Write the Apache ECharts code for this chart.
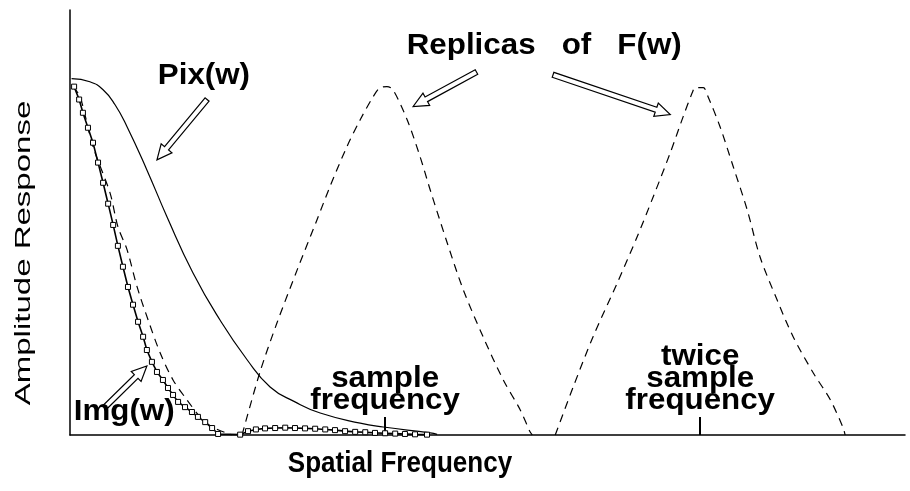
<!DOCTYPE html>
<html>
<head>
<meta charset="utf-8">
<script src="https://cdn.jsdelivr.net/npm/echarts@6/dist/echarts.min.js"></script>
<style>
html, body { margin: 0; padding: 0; background: #fff; }
#chart { width: 910px; height: 491px; }
</style>
</head>
<body>
<div id="chart"></div>
<script>
// frequency in units of the sample frequency, amplitude normalised to the F(w) peak
var pixData = [[0.005,1.023],[0.063,1.014],[0.105,0.991],[0.143,0.948],[0.181,0.885],[0.244,0.761],
    [0.308,0.626],[0.390,0.466],[0.476,0.330],[0.562,0.216],[0.635,0.138],[0.714,0.095],
    [0.794,0.063],[0.921,0.034],[0.994,0.023],[1.143,0.006],[1.165,0.002]];

var imgData = [[0.013,1.0],[0.029,0.963],[0.041,0.925],[0.057,0.882],[0.073,0.839],[0.089,0.782],
    [0.105,0.724],[0.121,0.664],[0.137,0.603],[0.152,0.543],[0.168,0.483],[0.184,0.425],
    [0.200,0.374],[0.216,0.325],[0.232,0.282],[0.244,0.244],[0.260,0.210],[0.276,0.181],
    [0.295,0.158],[0.311,0.135],[0.327,0.115],[0.343,0.095],[0.365,0.080],[0.387,0.066],
    [0.406,0.052],[0.429,0.037],[0.451,0.020],[0.470,0.003],
    [0.540,0.001],[0.565,0.011],[0.590,0.016],[0.619,0.019],[0.651,0.020],[0.683,0.021],
    [0.714,0.020],[0.746,0.019],[0.778,0.018],[0.810,0.016],[0.841,0.014],[0.873,0.011],
    [0.905,0.009],[0.937,0.008],[0.968,0.006],[1.000,0.005],[1.032,0.004],[1.063,0.003],
    [1.095,0.002],[1.133,0.001]];

// F(w) at baseband plus its replicas at 1x and 2x the sample frequency
var fData = [[0.010,1.0],[0.032,0.971],[0.073,0.828],[0.127,0.695],[0.152,0.598],[0.181,0.532],
    [0.213,0.425],[0.248,0.330],[0.286,0.236],[0.327,0.158],[0.371,0.101],[0.413,0.052],
    [0.451,0.023],[0.514,0],
    [0.53,null],
    [0.546,0],[0.603,0.181],[0.657,0.322],[0.721,0.474],[0.784,0.618],[0.825,0.713],
    [0.879,0.828],[0.921,0.905],[0.962,0.971],[0.984,0.997],[1.006,1.0],[1.025,0.991],
    [1.070,0.905],[1.111,0.799],[1.143,0.704],[1.197,0.552],[1.248,0.417],[1.311,0.282],
    [1.375,0.158],[1.429,0.072],[1.460,0.009],[1.467,0],
    [1.50,null],
    [1.540,0],[1.597,0.138],[1.660,0.282],[1.737,0.437],[1.800,0.569],[1.851,0.684],
    [1.905,0.810],[1.946,0.914],[1.975,0.983],[1.984,0.997],[2.010,0.997],[2.025,0.971],
    [2.063,0.885],[2.105,0.770],[2.149,0.647],[2.190,0.511],[2.244,0.388],[2.295,0.282],
    [2.359,0.178],[2.413,0.101],[2.454,0.020],[2.460,0]];

var freqTicks = [1, 2];

var myChart = echarts.init(document.getElementById('chart'));
var FONT = '"Liberation Sans", Arial, sans-serif';

option = {
    animation: false,
    backgroundColor: '#fff',
    grid: {
        left: 70,
        right: 5,
        top: 10,
        bottom: 56
    },
    xAxis: {
        type: 'value',
        min: 0,
        max: 2.65,
        axisLine: {
            show: true,
            lineStyle: {color: '#000', width: 1.5}
        },
        axisTick: {
            show: true,
            inside: true,
            length: 18,
            customValues: freqTicks,
            lineStyle: {color: '#000', width: 2}
        },
        axisLabel: {show: false},
        splitLine: {show: false}
    },
    yAxis: {
        type: 'value',
        min: 0,
        max: 1.22,
        axisLine: {
            show: true,
            lineStyle: {color: '#000', width: 1.5}
        },
        axisTick: {show: false},
        axisLabel: {show: false},
        splitLine: {show: false}
    },
    series: [{
        name: 'Pix(w)',
        type: 'line',
        data: pixData,
        smooth: true,
        showSymbol: false,
        lineStyle: {color: '#000', width: 1.2}
    }, {
        name: 'F(w)',
        type: 'line',
        data: fData,
        smooth: 0.3,
        connectNulls: false,
        showSymbol: false,
        lineStyle: {color: '#000', width: 1.2, type: [8, 6]}
    }, {
        name: 'Img(w)',
        type: 'line',
        data: imgData,
        symbol: 'rect',
        symbolSize: 5,
        showSymbol: true,
        itemStyle: {color: '#fff', borderColor: '#000', borderWidth: 1},
        lineStyle: {color: '#000', width: 1.6}
    }]
};
myChart.setOption(option);

// hollow arrow outline between two pixel points
function arrowShape(p0, p1) {
    var dx = p1[0] - p0[0], dy = p1[1] - p0[1];
    var len = Math.sqrt(dx * dx + dy * dy);
    var ux = dx / len, uy = dy / len, nx = -uy, ny = ux;
    var sw = 2.6, hw = 7, hl = 15;
    var bx = p1[0] - ux * hl, by = p1[1] - uy * hl;
    return [
        [p0[0] + nx * sw, p0[1] + ny * sw],
        [bx + nx * sw, by + ny * sw],
        [bx + nx * hw, by + ny * hw],
        [p1[0], p1[1]],
        [bx - nx * hw, by - ny * hw],
        [bx - nx * sw, by - ny * sw],
        [p0[0] - nx * sw, p0[1] - ny * sw]
    ];
}

// annotations, anchored in data units
var arrows = [
    [[0.435, 0.963], [0.276, 0.790]],
    [[0.111, 0.080], [0.244, 0.198]],
    [[1.290, 1.042], [1.089, 0.943]],
    [[1.533, 1.034], [1.905, 0.920]]
];
var notes = [
    {text: 'Pix(w)', at: [0.425, 1.03]},
    {text: 'Img(w)', at: [0.172, 0.066]},
    {text: 'Replicas   of   F(w)', at: [1.505, 1.118]},
    {text: 'sample\nfrequency', at: [1.0, 0.13]},
    {text: 'twice\nsample\nfrequency', at: [2.0, 0.16]}
];

var graphics = [];
arrows.forEach(function (a) {
    var p0 = myChart.convertToPixel({gridIndex: 0}, a[0]);
    var p1 = myChart.convertToPixel({gridIndex: 0}, a[1]);
    graphics.push({
        type: 'polygon',
        shape: {points: arrowShape(p0, p1)},
        style: {fill: '#fff', stroke: '#000', lineWidth: 1.2},
        z: 10
    });
});
notes.forEach(function (l) {
    var p = myChart.convertToPixel({gridIndex: 0}, l.at);
    graphics.push({
        type: 'text',
        x: p[0],
        y: p[1],
        scaleX: 1.08,
        z: 11,
        style: {
            text: l.text,
            font: 'bold 29px ' + FONT,
            fill: '#000',
            align: 'center',
            verticalAlign: 'middle',
            lineHeight: 22
        }
    });
});
graphics.push({
    type: 'text',
    x: 400,
    y: 464,
    scaleX: 0.93,
    scaleY: 1.05,
    style: {
        text: 'Spatial Frequency',
        font: 'bold 28px ' + FONT,
        fill: '#000',
        align: 'center',
        verticalAlign: 'middle'
    }
});
graphics.push({
    type: 'text',
    x: 24,
    y: 253,
    rotation: Math.PI / 2,
    scaleX: 1.5,
    style: {
        text: 'Amplitude Response',
        font: '22px ' + FONT,
        fill: '#000',
        align: 'center',
        verticalAlign: 'middle'
    }
});
myChart.setOption({graphic: graphics});
</script>
</body>
</html>
